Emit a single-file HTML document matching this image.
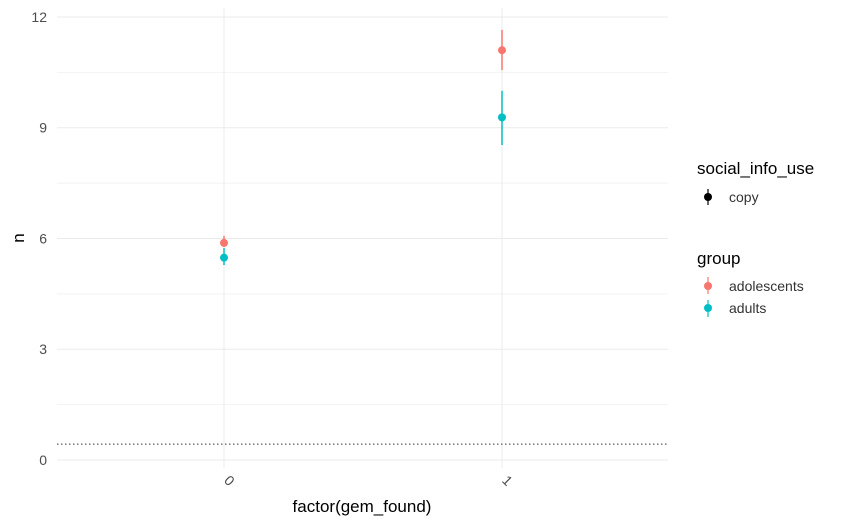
<!DOCTYPE html>
<html><head><meta charset="utf-8"><style>body{margin:0;background:#fff}svg{display:block;font-family:"Liberation Sans",sans-serif}</style></head>
<body>
<svg id="c" width="849" height="524"></svg>
<script>
const categories=["0","1"];
const adolescents=[5.88,11.1];
const adolescentsLo=[5.77,10.56];
const adolescentsHi=[6.07,11.65];
const adults=[5.48,9.28];
const adultsLo=[5.28,8.53];
const adultsHi=[5.74,10.0];
const yTicks=[0,3,6,9,12];
const refLine=0.43;
const ns="http://www.w3.org/2000/svg",svg=document.getElementById('c');
function y(v){return 460-v*36.92;}
function x(i){return 224+i*278;}
function el(t,a,p){const e=document.createElementNS(ns,t);for(const k in a)e.setAttribute(k,a[k]);(p||svg).appendChild(e);return e;}
const grid=el('g',{});
for(let v=1.5;v<12;v+=3){const l=el('line',{x1:57,x2:668,y1:y(v),y2:y(v),stroke:'#f2f2f2','stroke-width':1},grid);}
yTicks.forEach(v=>{const l=el('line',{x1:57,x2:668,y1:y(v),y2:y(v),stroke:'#ebebeb','stroke-width':1},grid);
const t=el('text',{x:47,y:y(v)+5,'text-anchor':'end','font-size':14,fill:'#4d4d4d'});t.textContent=v;});
categories.forEach((c,i)=>{el('line',{x1:x(i),x2:x(i),y1:8,y2:468,stroke:'#ebebeb'},grid);
const t=el('text',{transform:`translate(${x(i)+2},${484}) rotate(45)`,'text-anchor':'middle','font-size':14,fill:'#4d4d4d'});t.textContent=c;});
const rl=el('line',{x1:57,x2:668,y1:y(refLine),y2:y(refLine),stroke:'#333','stroke-dasharray':'1.5,2.5'});

function series(vals,lo,hi,col,name){categories.forEach((c,i)=>{
const l=el('line',{x1:x(i),x2:x(i),y1:y(hi[i]),y2:y(lo[i]),stroke:col,'stroke-width':1.5});

const p=el('circle',{cx:x(i),cy:y(vals[i]),r:4,fill:col});
});}
series(adolescents,adolescentsLo,adolescentsHi,'#f8766d','adolescents');
series(adults,adultsLo,adultsHi,'#00bfc4','adults');
function txt(s,a,n){const t=el('text',a);t.textContent=s;return t;}
txt('factor(gem_found)',{x:362,y:512,'text-anchor':'middle','font-size':17,fill:'#000'},'x-axis-title');
txt('n',{transform:'translate(24,238) rotate(-90)','text-anchor':'middle','font-size':17,fill:'#000'},'y-axis-title');
txt('social_info_use',{x:697,y:174,'font-size':17,fill:'#000'},'legend-title-social');
el('line',{x1:708,x2:708,y1:189,y2:205,stroke:'#000','stroke-width':1.2});el('circle',{cx:708,cy:197,r:4,fill:'#000'});
txt('copy',{x:729,y:202,'font-size':14,fill:'#333'},'legend-entry-copy');
txt('group',{x:697,y:264,'font-size':17,fill:'#000'},'legend-title-group');
el('line',{x1:708,x2:708,y1:277,y2:294,stroke:'#f8766d','stroke-width':1.2});el('circle',{cx:708,cy:286,r:4,fill:'#f8766d'});
txt('adolescents',{x:729,y:291,'font-size':14,fill:'#333'},'legend-entry-adolescents');
el('line',{x1:708,x2:708,y1:300,y2:317,stroke:'#00bfc4','stroke-width':1.2});el('circle',{cx:708,cy:308,r:4,fill:'#00bfc4'});
txt('adults',{x:729,y:313,'font-size':14,fill:'#333'},'legend-entry-adults');
</script></body></html>
